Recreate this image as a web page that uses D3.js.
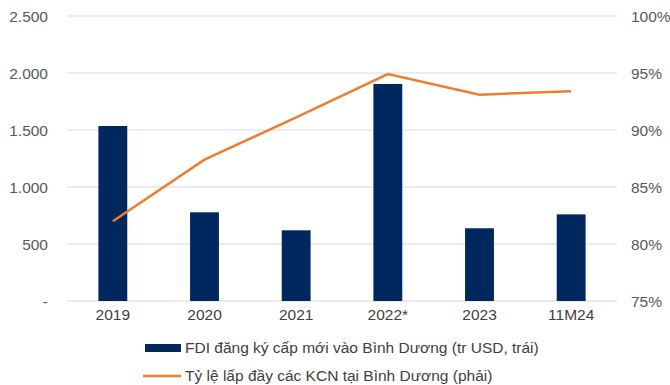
<!DOCTYPE html>
<html><head><meta charset="utf-8">
<script src="https://cdn.jsdelivr.net/npm/d3@7"></script>
<style>body{margin:0;background:#fff}svg{display:block}text{font-family:"Liberation Sans",Arial,sans-serif}</style>
</head><body>
<svg id="c" width="670" height="385"></svg>
<script>
const categories = ["2019","2020","2021","2022*","2023","11M24"];
const fdiValues = [1535, 778, 620, 1904, 638, 760];
const fillRates = [82.0, 87.4, 91.1, 94.9, 93.1, 93.4];
const leftTicks = [0, 500, 1000, 1500, 2000, 2500];
const rightTicks = [75, 80, 85, 90, 95, 100];
const seriesNames = ["FDI đăng ký cấp mới vào Bình Dương (tr USD, trái)", "Tỷ lệ lấp đầy các KCN tại Bình Dương (phải)"];

const FS = 15.5;
const svg = d3.select("#c");
const L = 67, R = 617, T = 16, B = 301;
const x = d3.scaleBand().domain(categories).range([L, R]).paddingInner(0).paddingOuter(0);
const yL = d3.scaleLinear().domain([0, 2500]).range([B, T]);
const yR = d3.scaleLinear().domain([75, 100]).range([B, T]);
const fmtL = v => v === 0 ? "-" : d3.format(",")(v).replace(/,/g, ".");

// gridlines
svg.append("g").selectAll("line").data(leftTicks).join("line")
  .attr("x1", L).attr("x2", R).attr("y1", d => yL(d)).attr("y2", d => yL(d))
  .attr("stroke", "#d9d9d9").attr("stroke-width", 1);

// left axis labels
const gl = svg.append("g").attr("transform", `translate(${L-19},0)`)
  .call(d3.axisLeft(yL).tickValues(leftTicks).tickFormat(fmtL).tickSize(0).tickPadding(0));
gl.select(".domain").remove();
gl.selectAll("text").attr("font-size", FS).attr("fill", "#595959").attr("dy", "0.35em")
  .attr("font-family", "Liberation Sans, Arial, sans-serif");

// right axis labels
const gr = svg.append("g").attr("transform", `translate(${R+14},0)`)
  .call(d3.axisRight(yR).tickValues(rightTicks).tickFormat(d => d + "%").tickSize(0).tickPadding(0));
gr.select(".domain").remove();
gr.selectAll("text").attr("font-size", FS).attr("fill", "#595959").attr("dy", "0.35em")
  .attr("font-family", "Liberation Sans, Arial, sans-serif");

// x axis labels
const gx = svg.append("g").attr("transform", `translate(0,${B+8})`)
  .call(d3.axisBottom(x).tickSize(0).tickPadding(0));
gx.select(".domain").remove();
gx.selectAll("text").attr("font-size", FS).attr("fill", "#404040").attr("dy", "0.71em")
  .attr("font-family", "Liberation Sans, Arial, sans-serif");

// bars
const bw = x.bandwidth() * 0.315;
svg.append("g").selectAll("rect").data(categories).join("rect")
  .attr("x", (d) => x(d) + x.bandwidth()/2 - bw/2)
  .attr("width", bw)
  .attr("y", (d, i) => yL(fdiValues[i]))
  .attr("height", (d, i) => B - yL(fdiValues[i]))
  .attr("fill", "#00285e");

// line
const line = d3.line().x((d, i) => x(categories[i]) + x.bandwidth()/2).y(d => yR(d));
svg.append("path").datum(fillRates).attr("d", line)
  .attr("fill", "none").attr("stroke", "#ed7d31").attr("stroke-width", 2.5);

// legend
const lg = svg.append("g");
lg.append("rect").attr("x", 145).attr("y", 344).attr("width", 36).attr("height", 8).attr("fill", "#00285e");
lg.append("text").attr("x", 185).attr("y", 348).attr("dy", "0.35em").attr("font-size", FS).attr("fill", "#404040").text(seriesNames[0]);
lg.append("line").attr("x1", 143).attr("x2", 181).attr("y1", 376).attr("y2", 376).attr("stroke", "#ed7d31").attr("stroke-width", 2.5);
lg.append("text").attr("x", 185).attr("y", 376).attr("dy", "0.35em").attr("font-size", FS).attr("fill", "#404040").text(seriesNames[1]);
</script>
</body></html>
